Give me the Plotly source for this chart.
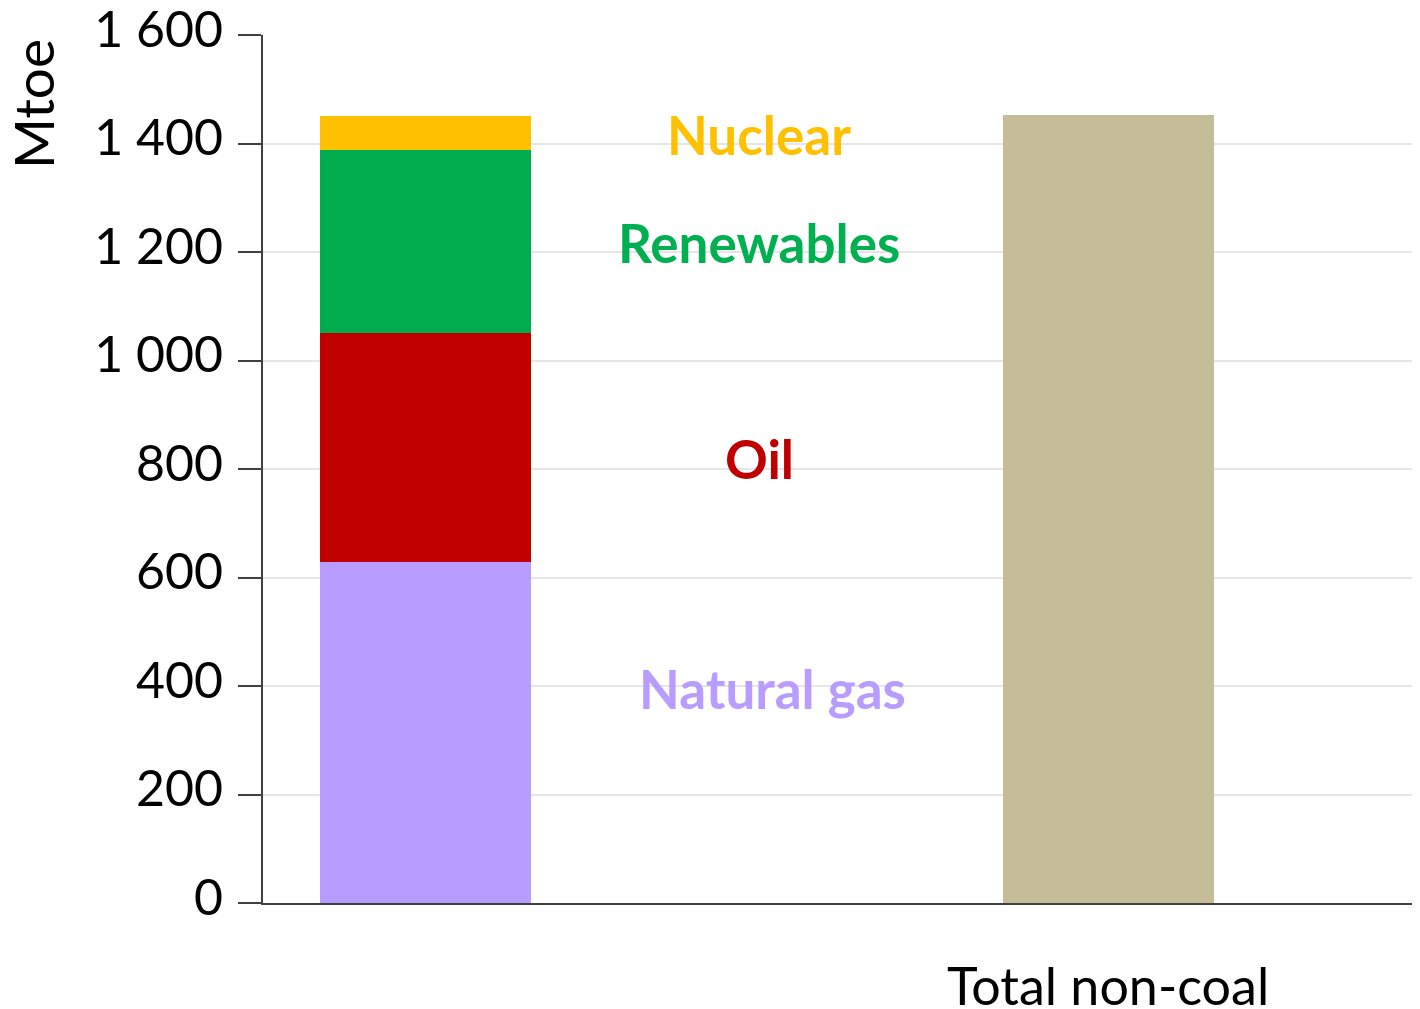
import plotly.graph_objects as go

# ---- data ----
positions = [0, 1]
category_labels = ["", "Total non-coal"]
natural_gas = [628, None]
oil = [422, None]
renewables = [338, None]
nuclear = [63, None]
total_non_coal = [None, 1453]

y_tickvals = [0, 200, 400, 600, 800, 1000, 1200, 1400, 1600]
y_ticktext = ["0", "200", "400", "600", "800", "1 000", "1 200", "1 400", "1 600"]

series_names = ["Natural gas", "Oil", "Renewables", "Nuclear"]
series_values = [natural_gas, oil, renewables, nuclear]
series_colors = ["#B99CFF", "#C00000", "#00AC4E", "#FFC000"]
label_colors = ["#B99CFF", "#C00000", "#00B050", "#FFC000"]
label_y = [396, 820, 1218, 1416]
label_x = [0.508, 0.489, 0.489, 0.489]

FONT = "Lato"
BAR_W = 0.309

# figure geometry (page body has an 8px margin)
W, H = 1412, 1001
ML, MT, MR, MB = 255, 27, 0, 106
PW, PH = W - ML - MR, H - MT - MB

fig = go.Figure()
for name, vals, col in zip(series_names, series_values, series_colors):
    fig.add_trace(go.Bar(x=positions, y=vals, name=name, marker_color=col,
                         marker_line_width=0, width=BAR_W))
fig.add_trace(go.Bar(x=positions, y=total_non_coal, name="Total non-coal",
                     marker_color="#C4BD97", marker_line_width=0, width=BAR_W))

for name, col, lx, ly in zip(series_names, label_colors, label_x, label_y):
    fig.add_annotation(x=lx, y=ly, xref="x", yref="y", text="<b>%s</b>" % name,
                       showarrow=False, font=dict(family=FONT, size=53, color=col),
                       xanchor="center", yanchor="middle")

fig.add_annotation(x=(25 - ML) / PW, y=(H - MB - 96) / PH, xref="paper", yref="paper",
                   text="Mtoe", showarrow=False, textangle=-90,
                   font=dict(family=FONT, size=55, color="#000000"),
                   xanchor="center", yanchor="middle")

fig.update_layout(
    barmode="stack",
    width=W, height=H,
    margin=dict(l=ML, r=MR, t=MT, b=MB, autoexpand=False),
    paper_bgcolor="white", plot_bgcolor="white",
    showlegend=False,
    bargap=0,
    font=dict(family=FONT, color="#000000"),
)
fig.update_xaxes(
    range=[-0.238, 1.457],
    tickvals=positions, ticktext=category_labels,
    showgrid=False, zeroline=False,
    showline=True, linecolor="#404040", linewidth=2,
    ticks="", tickfont=dict(family=FONT, size=52, color="#000000"),
    ticklabelstandoff=38, automargin=False,
)
fig.update_yaxes(
    range=[0, 1600],
    tickvals=y_tickvals, ticktext=y_ticktext,
    showgrid=True, gridcolor="#E6E6E6", gridwidth=2,
    zeroline=False,
    showline=True, linecolor="#404040", linewidth=2,
    ticks="outside", ticklen=23, tickwidth=2, tickcolor="#404040",
    tickfont=dict(family=FONT, size=50, color="#000000"),
    ticklabelstandoff=5, ticklabelshift=-6,
    automargin=False, ticklabeloverflow="allow",
)

fig.write_html("out.html")
